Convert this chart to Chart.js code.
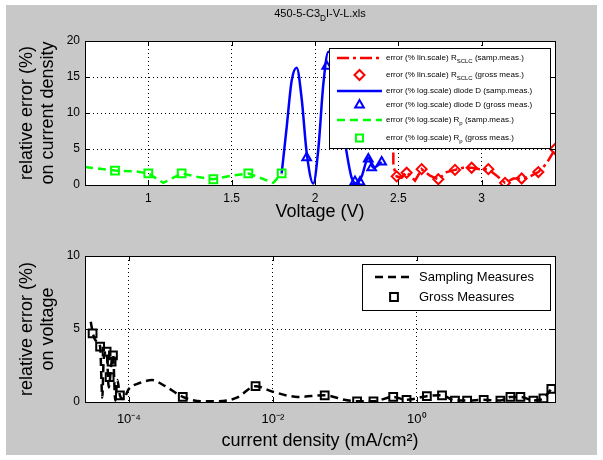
<!DOCTYPE html>
<html>
<head>
<meta charset="utf-8">
<script src="https://cdn.jsdelivr.net/npm/chart.js@4.4.0/dist/chart.umd.min.js"></script>
<style>
  html, body { margin: 0; padding: 0; background: #fff; }
  #fig { position: absolute; left: 6px; top: 5px; width: 591px; height: 450px; background: #c8c8c8; }
  canvas { position: absolute; left: 0; }
  #topChart { top: 0; }
  #bottomChart { top: 230px; }
</style>
</head>
<body>
<div id="fig"></div>
<canvas id="topChart" width="603" height="230"></canvas>
<canvas id="bottomChart" width="603" height="230"></canvas>
<script>
// ---- top plot: relative error on current density vs voltage ----
const rsclcSampV   = [2.47, 2.47, 2.49, 2.52, 2.55, 2.60, 2.64, 2.69, 2.74, 2.79, 2.84, 2.89, 2.94, 2.99, 3.04, 3.09, 3.14, 3.19, 3.24, 3.29, 3.34, 3.39, 3.44];
const rsclcSampErr = [4.5, 2.6, 1.2, 1.0, 1.8, 0.6, 2.2, 1.3, 0.8, 1.8, 2.1, 2.4, 2.4, 2.2, 2.2, 1.3, 0.3, 0.9, 0.9, 1.2, 1.8, 3.0, 5.0];
const rsclcGrossV   = [2.49, 2.55, 2.64, 2.74, 2.84, 2.94, 3.04, 3.14, 3.24, 3.34, 3.44];
const rsclcGrossErr = [1.2, 1.7, 2.2, 0.8, 2.1, 2.4, 2.2, 0.3, 0.9, 1.8, 5.0];

const diodeSampV   = [1.80, 1.83, 1.86, 1.89, 1.92, 1.95, 1.99, 2.02, 2.05, 2.08, 2.11, 2.15, 2.19, 2.22, 2.25, 2.28, 2.32, 2.35, 2.40];
const diodeSampErr = [1.6, 8.0, 14.5, 16.3, 12.0, 4.5, 0.2, 5.0, 14.0, 18.5, 17.5, 11.0, 4.5, 1.0, 0.2, 1.2, 3.8, 2.4, 3.2];
const diodeGrossV   = [1.95, 2.07, 2.24, 2.27, 2.32, 2.34, 2.40];
const diodeGrossErr = [3.8, 16.5, 0.5, 0.4, 3.6, 2.4, 3.2];

const rpSampV   = [0.62, 0.80, 0.92, 1.00, 1.09, 1.20, 1.30, 1.39, 1.50, 1.60, 1.75, 1.80];
const rpSampErr = [2.5, 2.0, 1.9, 1.6, 0.3, 1.6, 1.1, 0.8, 1.3, 1.6, 0.3, 1.6];
const rpGrossV   = [0.80, 1.00, 1.20, 1.39, 1.60, 1.80];
const rpGrossErr = [2.0, 1.6, 1.6, 0.8, 1.6, 1.6];

const voltTicks = [1, 1.5, 2, 2.5, 3];

// ---- bottom plot: relative error on voltage vs current density ----
const sampJ = [2.95e-5, 3.16e-5, 3.47e-5, 3.98e-5, 4.27e-5, 4.47e-5, 4.9e-5, 5.25e-5, 5.75e-5, 6.03e-5,
               6.46e-5, 6.92e-5, 7.5e-5, 8.3e-5, 1.0e-4, 1.41e-4, 2.1e-4, 3.16e-4, 5.6e-4, 1.0e-3,
               1.78e-3, 3.16e-3, 5.75e-3, 1.0e-2, 2.24e-2, 5.25e-2, 0.1, 0.148,
               0.25, 0.47, 0.72, 1.38, 2.24, 3.39, 5.0, 8.5, 14.5, 20, 27.5, 41.7, 57.5, 74];
const sampErr = [5.5, 4.7, 4.2, 3.8, 0.3, 3.0, 3.45, 1.0, 2.76, 3.2,
                 0.1, 1.5, 0.45, 0.2, 0.9, 1.3, 1.5, 1.1, 0.35, 0.05,
                 0.05, 0.3, 1.08, 0.7, 0.35, 0.46, 0.15, 0.05,
                 0.05, 0.35, 0.15, 0.4, 0.46, 0.1, 0.1, 0.15, 0.1, 0.35, 0.35, 0.1, 0.25, 0.9];
const grossJ = [3.13e-5, 3.98e-5, 4.9e-5, 6.0e-5, 5.75e-5, 5.4e-5, 7.5e-5, 5.6e-4, 5.75e-3, 5.25e-2,
                0.148, 0.25, 0.47, 0.72, 1.38, 2.24, 3.39, 5.0, 8.5, 14.5, 20, 27.5, 41.7, 57.5, 74];
const grossErr = [4.7, 3.8, 3.45, 3.2, 2.76, 1.7, 0.45, 0.35, 1.08, 0.46,
                  0.05, 0.05, 0.35, 0.15, 0.4, 0.46, 0.1, 0.1, 0.15, 0.1, 0.35, 0.35, 0.1, 0.25, 0.9];

const jTicks = [1e-4, 1e-2, 1];
const jTickLabels = { '0.0001': '10\u207B\u2074', '0.01': '10\u207B\u00B2', '1': '10\u2070' };

const RED = '#ff0000', BLUE = '#0000ff', GREEN = '#00ff00', BLACK = '#000000';
const DASHDOT = [12, 4, 3, 4];
const DASH = [8, 5];
const FONT = "'Liberation Sans', Arial, sans-serif";

const pts = (xs, ys) => xs.map((x, i) => ({ x: x, y: ys[i] }));

function lineSet(xs, ys, color, dash, smooth) {
    return {
        data: pts(xs, ys), showLine: true, borderColor: color, borderWidth: 2.5,
        borderDash: dash, pointRadius: 0, fill: false,
        cubicInterpolationMode: smooth ? 'monotone' : 'default'
    };
}

function markerSet(xs, ys, color, style, r) {
    return {
        data: pts(xs, ys), showLine: false, pointStyle: style, pointRadius: r,
        pointBorderColor: color, pointBackgroundColor: 'rgba(0,0,0,0)', pointBorderWidth: 2
    };
}

// draw text pieces, some of them as subscript
function drawRich(ctx, parts, x, y, size) {
    ctx.textBaseline = 'middle';
    ctx.textAlign = 'left';
    parts.forEach(p => {
        const sub = p[1];
        ctx.font = (sub ? size * 0.75 : size) + 'px ' + FONT;
        ctx.fillText(p[0], x, sub ? y + size * 0.4 : y);
        x += ctx.measureText(p[0]).width;
    });
    return x;
}

function richWidth(ctx, parts, size) {
    let w = 0;
    parts.forEach(p => {
        ctx.font = (p[1] ? size * 0.75 : size) + 'px ' + FONT;
        w += ctx.measureText(p[0]).width;
    });
    return w;
}

function drawLegend(ctx, box, items, opts) {
    ctx.save();
    ctx.fillStyle = '#fff';
    ctx.fillRect(box.x, box.y, box.w, box.h);
    ctx.strokeStyle = '#000';
    ctx.lineWidth = 1;
    ctx.strokeRect(box.x + 0.5, box.y + 0.5, box.w, box.h);
    items.forEach(it => {
        ctx.strokeStyle = it.color;
        if (it.dash) {
            ctx.lineWidth = 2.5;
            ctx.setLineDash(it.dash);
            ctx.beginPath();
            ctx.moveTo(opts.x0, it.y);
            ctx.lineTo(opts.x1, it.y);
            ctx.stroke();
            ctx.setLineDash([]);
        }
        if (it.marker) {
            ctx.fillStyle = 'rgba(0,0,0,0)';
            ctx.lineWidth = 2;
            Chart.helpers.drawPoint(ctx, { pointStyle: it.marker, radius: opts.r, borderWidth: 2 }, (opts.x0 + opts.x1) / 2, it.y);
        }
        ctx.fillStyle = '#000';
        drawRich(ctx, it.parts, opts.tx, it.y, opts.size);
    });
    ctx.restore();
}

function drawFrame(chart) {
    const { ctx, chartArea: a } = chart;
    const xs = chart.scales.x, ys = chart.scales.y;
    ctx.save();
    ctx.strokeStyle = '#000';
    ctx.lineWidth = 1;
    ctx.beginPath();
    xs.ticks.forEach(t => {
        const p = Math.round(xs.getPixelForValue(t.value)) + 0.5;
        ctx.moveTo(p, a.bottom); ctx.lineTo(p, a.bottom - 5);
        ctx.moveTo(p, a.top); ctx.lineTo(p, a.top + 5);
    });
    ys.ticks.forEach(t => {
        const p = Math.round(ys.getPixelForValue(t.value)) + 0.5;
        ctx.moveTo(a.left, p); ctx.lineTo(a.left + 5, p);
        ctx.moveTo(a.right, p); ctx.lineTo(a.right - 5, p);
    });
    ctx.stroke();
    ctx.strokeRect(Math.round(a.left) + 0.5, Math.round(a.top) + 0.5, Math.round(a.right - a.left), Math.round(a.bottom - a.top));
    ctx.restore();
}

const whiteArea = {
    id: 'whiteArea',
    beforeDraw(chart) {
        const { ctx, chartArea: a } = chart;
        ctx.save();
        ctx.fillStyle = '#fff';
        ctx.fillRect(a.left, a.top, a.right - a.left, a.bottom - a.top);
        ctx.restore();
    }
};

function yAxis(max, step, label, width, titlePad) {
    return {
        min: 0, max: max,
        ticks: { stepSize: step, color: '#000', padding: 5, font: { family: FONT, size: 12 } },
        grid: { color: '#000', lineWidth: 1, drawTicks: false },
        border: { display: false, dash: [1, 3] },
        title: { display: true, text: label, color: '#000', font: { family: FONT, size: 18 }, padding: { top: titlePad, bottom: 0 } },
        afterFit(s) { s.width = width; }
    };
}

// ---- top chart ----
new Chart(document.getElementById('topChart'), {
    type: 'scatter',
    data: {
        datasets: [
            lineSet(rpSampV, rpSampErr, GREEN, DASH, false),
            markerSet(rpGrossV, rpGrossErr, GREEN, 'rect', 5.5),
            lineSet(diodeSampV, diodeSampErr, BLUE, [], true),
            markerSet(diodeGrossV, diodeGrossErr, BLUE, 'triangle', 5),
            lineSet(rsclcSampV, rsclcSampErr, RED, DASHDOT, false),
            markerSet(rsclcGrossV, rsclcGrossErr, RED, 'rectRot', 5)
        ]
    },
    options: {
        responsive: false,
        animation: false,
        devicePixelRatio: 1,
        layout: { padding: { top: 41, right: 48, left: 0, bottom: 0 } },
        plugins: { legend: { display: false }, tooltip: { enabled: false } },
        scales: {
            x: {
                type: 'linear', min: 0.62, max: 3.44,
                afterBuildTicks(s) { s.ticks = voltTicks.map(v => ({ value: v })); },
                ticks: { color: '#000', padding: 6, font: { family: FONT, size: 12 }, maxRotation: 0,
                         callback: v => String(v) },
                grid: { color: '#000', lineWidth: 1, drawTicks: false },
                border: { display: false, dash: [1, 3] },
                title: { display: true, text: 'Voltage (V)', color: '#000', font: { family: FONT, size: 18 }, padding: { top: 0, bottom: 7 } },
                afterFit(s) { s.height = 45; }
            },
            y: yAxis(20, 5, ['relative error (%)', 'on current density'], 85, 16)
        }
    },
    plugins: [whiteArea, {
        id: 'decor',
        afterDraw(chart) {
            const ctx = chart.ctx;
            drawFrame(chart);
            // title with subscript
            const titleParts = [['450-5-C3'], ['D', 1], ['I-V-L.xls']];
            ctx.save();
            ctx.fillStyle = '#000';
            const tw = richWidth(ctx, titleParts, 11);
            drawRich(ctx, titleParts, 320 - tw / 2, 14, 11);
            ctx.restore();
            drawLegend(ctx, { x: 329, y: 48, w: 221, h: 100 }, [
                { y: 58, color: RED, dash: DASHDOT, parts: [['error (% lin.scale) R'], ['SCLC', 1], [' (samp.meas.)']] },
                { y: 75, color: RED, marker: 'rectRot', parts: [['error (% lin.scale) R'], ['SCLC', 1], [' (gross meas.)']] },
                { y: 91, color: BLUE, dash: [], parts: [['error (% log.scale) diode D (samp.meas.)']] },
                { y: 105, color: BLUE, marker: 'triangle', parts: [['error (% log.scale) diode D (gross meas.)']] },
                { y: 120, color: GREEN, dash: DASH, parts: [['error (% log.scale) R'], ['p', 1], [' (samp.meas.)']] },
                { y: 138, color: GREEN, marker: 'rect', parts: [['error (% log.scale) R'], ['p', 1], [' (gross meas.)']] }
            ], { x0: 337, x1: 382, tx: 386, size: 8, r: 5 });
        }
    }]
});

// ---- bottom chart ----
new Chart(document.getElementById('bottomChart'), {
    type: 'scatter',
    data: {
        datasets: [
            lineSet(sampJ, sampErr, BLACK, DASH, true),
            markerSet(grossJ, grossErr, BLACK, 'rect', 5.5)
        ]
    },
    options: {
        responsive: false,
        animation: false,
        devicePixelRatio: 1,
        layout: { padding: { top: 26, right: 48, left: 0, bottom: 0 } },
        plugins: { legend: { display: false }, tooltip: { enabled: false } },
        scales: {
            x: {
                type: 'logarithmic', min: Math.pow(10, -4.61), max: Math.pow(10, 1.92),
                afterBuildTicks(s) { s.ticks = jTicks.map(v => ({ value: v })); },
                ticks: {
                    color: '#000', padding: 10, font: { family: FONT, size: 13 }, maxRotation: 0,
                    callback: v => jTickLabels[String(v)] || ''
                },
                grid: { color: '#000', lineWidth: 1, drawTicks: false },
                border: { display: false, dash: [1, 3] },
                title: { display: true, text: 'current density (mA/cm\u00B2)', color: '#000', font: { family: FONT, size: 18 }, padding: { top: 0, bottom: 8 } },
                afterFit(s) { s.height = 58; }
            },
            y: yAxis(10, 5, ['relative error (%)', 'on voltage'], 85, 16)
        }
    },
    plugins: [whiteArea, {
        id: 'decor',
        afterDraw(chart) {
            drawFrame(chart);
            drawLegend(chart.ctx, { x: 362, y: 34, w: 188, h: 46 }, [
                { y: 47, color: BLACK, dash: DASH, parts: [['Sampling Measures']] },
                { y: 67, color: BLACK, marker: 'rect', parts: [['Gross Measures']] }
            ], { x0: 375, x1: 413, tx: 419, size: 13, r: 5.5 });
        }
    }]
});
</script>
</body>
</html>
